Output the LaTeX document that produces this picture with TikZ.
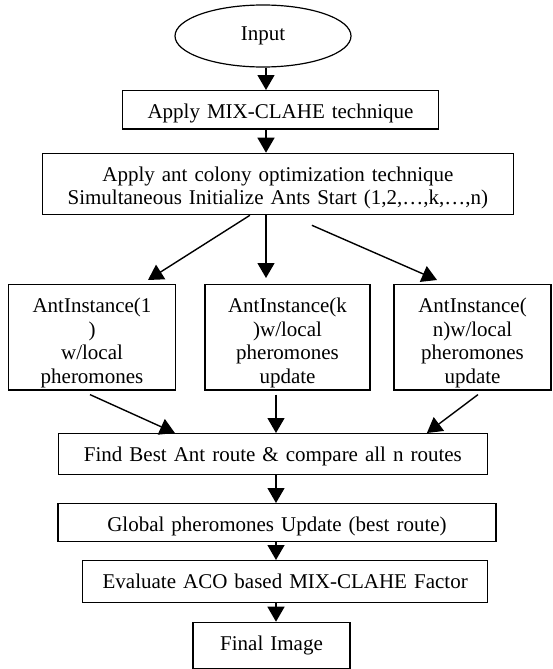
\documentclass[tikz,border=0pt]{standalone}
\usepackage{fontspec}
\setmainfont{Liberation Serif}
\usetikzlibrary{shapes.geometric,arrows.meta,positioning}

\tikzset{
  flowbox/.style 2 args={draw, rectangle, line width=0.6pt, anchor=north, inner sep=0pt,
    align=center, text width=#1, text height=14pt, text depth=#2},
  flowarrow/.style={-{Triangle[length=7.5pt, width=8.5pt]}, line width=0.7pt},
}

\begin{document}
\begin{tikzpicture}[x=0.5pt, y=-0.5pt, font=\fontsize{10.5pt}{11.8pt}\selectfont]
    \useasboundingbox (0,0) rectangle (552,669);

    % Input and preprocessing
    \node[draw, ellipse, line width=0.6pt, minimum width=88pt, minimum height=31pt, inner sep=0pt] (input) at (263, 36) {Input};
    \node[flowbox={157.8pt}{5.2pt}] (mix) at (280.5, 90) {Apply MIX-CLAHE technique};
    \node[flowbox={235.2pt}{16.7pt}] (aco) at (277.9, 152.7) {Apply ant colony optimization technique\\Simultaneous Initialize Ants Start (1,2,\ldots,k,\ldots,n)};

    % Ant instances
    \node[flowbox={83.7pt}{38.7pt}] (ant1) at (92, 284) {AntInstance(1\\)\\w/local\\pheromones};
    \node[flowbox={82.5pt}{38.7pt}] (antk) at (287.5, 284) {AntInstance(k\\)w/local\\pheromones\\update};
    \node[flowbox={78.5pt}{38.7pt}] (antn) at (472.5, 284) {AntInstance(\\n)w/local\\pheromones\\update};

    % Best route and output
    \node[flowbox={214.8pt}{6.5pt}] (best) at (272.9, 433) {Find Best Ant route \& compare all n routes};
    \node[flowbox={219pt}{4.9pt}] (global) at (277, 503) {Global pheromones Update (best route)};
    \node[flowbox={202.5pt}{6.9pt}] (eval) at (285.2, 560) {Evaluate ACO based MIX-CLAHE Factor};
    \node[flowbox={78.5pt}{9.2pt}] (final) at (271.5, 621.7) {Final Image};

    % Connections
    \coordinate (upper axis) at (266, 0);
    \coordinate (lower axis) at (276, 0);
    \draw[flowarrow] (input.south -| upper axis) -- (mix.north -| upper axis);
    \draw[flowarrow] (mix.south -| upper axis) -- (aco.north -| upper axis);
    \draw[flowarrow] ([xshift=-14pt]aco.south) -- ([xshift=28pt, yshift=2pt]ant1.north);
    \draw[flowarrow, shorten >=3pt] (aco.south -| upper axis) -- (antk.north -| upper axis);
    \draw[flowarrow] ([xshift=17pt, yshift=-5pt]aco.south) -- ([xshift=-17.75pt, yshift=2pt]antn.north);

    \draw[flowarrow] ([xshift=-1pt, yshift=-2pt]ant1.south) -- ([xshift=-49pt]best.north);
    \draw[flowarrow, shorten <=2pt] (antk.south -| lower axis) -- (best.north -| lower axis);
    \draw[flowarrow] ([xshift=2.75pt, yshift=-2pt]antn.south) -- ([xshift=77pt]best.north);

    \draw[flowarrow] (best.south -| lower axis) -- (global.north -| lower axis);
    \draw[flowarrow] (global.south -| lower axis) -- (eval.north -| lower axis);
    \draw[flowarrow] (eval.south -| lower axis) -- (final.north -| lower axis);
\end{tikzpicture}
\end{document}
